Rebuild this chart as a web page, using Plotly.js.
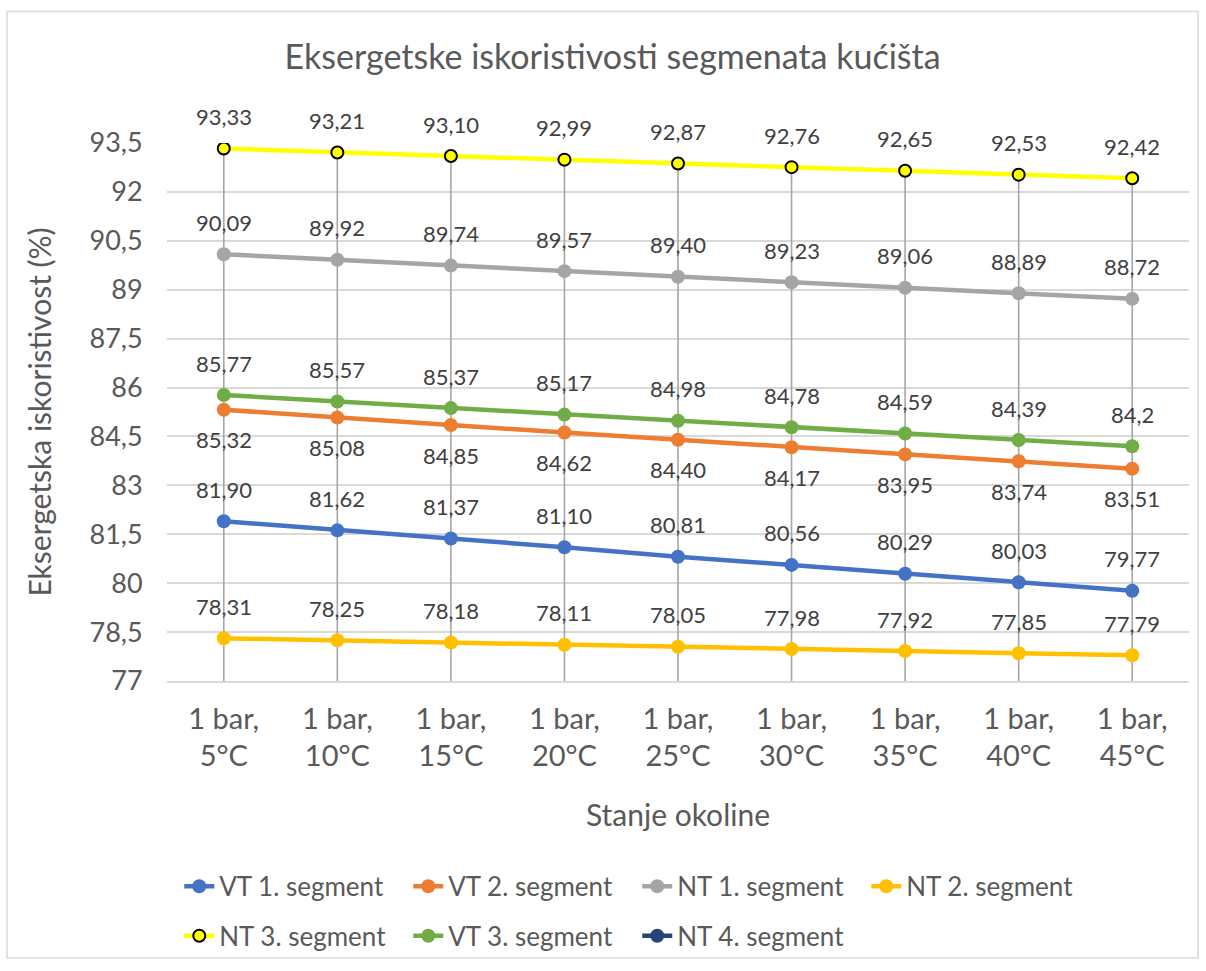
<!DOCTYPE html>
<html>
<head>
<meta charset="utf-8">
<script src="https://cdn.plot.ly/plotly-3.0.1.min.js"></script>
<style>
  html, body { margin: 0; padding: 0; background: #ffffff; }
  #chart { width: 1206px; height: 971px; }
</style>
</head>
<body>
<div id="chart"></div>
<script>
// ---- data ----
const categories = ["1 bar,<br>5°C", "1 bar,<br>10°C", "1 bar,<br>15°C", "1 bar,<br>20°C", "1 bar,<br>25°C",
                    "1 bar,<br>30°C", "1 bar,<br>35°C", "1 bar,<br>40°C", "1 bar,<br>45°C"];
const vt1 = [81.90, 81.62, 81.37, 81.10, 80.81, 80.56, 80.29, 80.03, 79.77];
const vt2 = [85.32, 85.08, 84.85, 84.62, 84.40, 84.17, 83.95, 83.74, 83.51];
const nt1 = [90.09, 89.92, 89.74, 89.57, 89.40, 89.23, 89.06, 88.89, 88.72];
const nt2 = [78.31, 78.25, 78.18, 78.11, 78.05, 77.98, 77.92, 77.85, 77.79];
const nt3 = [93.33, 93.21, 93.10, 92.99, 92.87, 92.76, 92.65, 92.53, 92.42];
const vt3 = [85.77, 85.57, 85.37, 85.17, 84.98, 84.78, 84.59, 84.39, 84.2];
const nt4 = [];
const vt3Labels = ["85,77", "85,57", "85,37", "85,17", "84,98", "84,78", "84,59", "84,39", "84,2"];
const yTickVals = [77, 78.5, 80, 81.5, 83, 84.5, 86, 87.5, 89, 90.5, 92, 93.5];
const yTickText = ["77", "78,5", "80", "81,5", "83", "84,5", "86", "87,5", "89", "90,5", "92", "93,5"];
const Y_MIN = 77, Y_MAX = 93.5;

const FONT = "Lato, 'Open Sans', sans-serif";
const fmt = v => v.toFixed(2).replace('.', ',');

const series = [
  {name: "VT 1. segment", y: vt1, color: "#4472C4", legend: "legend", pos: "above"},
  {name: "VT 2. segment", y: vt2, color: "#ED7D31", legend: "legend", pos: "below"},
  {name: "NT 1. segment", y: nt1, color: "#A5A5A5", legend: "legend", pos: "above"},
  {name: "NT 2. segment", y: nt2, color: "#FFC000", legend: "legend", pos: "above"},
  {name: "NT 3. segment", y: nt3, color: "#FFFF00", legend: "legend2", pos: "above", outline: true},
  {name: "VT 3. segment", y: vt3, color: "#70AD47", legend: "legend2", pos: "above", labels: vt3Labels},
  {name: "NT 4. segment", y: nt4, color: "#264478", legend: "legend2", pos: "none"}
];

// drop lines (from top series down to axis minimum), drawn first so they sit behind
const traces = [{
  type: "scatter", mode: "markers", x: categories, y: nt3,
  marker: {size: 1, opacity: 0}, showlegend: false, hoverinfo: "skip",
  error_y: {type: "data", symmetric: false, array: nt3.map(() => 0),
            arrayminus: nt3.map(v => v - Y_MIN), width: 0, thickness: 1.6, color: "#A6A6A6"}
}];

const annotations = [];
series.forEach(s => {
  traces.push({
    type: "scatter", mode: "lines+markers", name: s.name,
    x: s.y.length ? categories : [null], y: s.y.length ? s.y : [null],
    legend: s.legend,
    line: {color: s.color, width: 4.5},
    marker: s.outline ? {color: s.color, size: 12, line: {color: "#000000", width: 2}}
                      : {color: s.color, size: 14},
    hoverinfo: "x+y"
  });
  if (s.pos !== "none") {
    s.y.forEach((v, i) => {
      annotations.push({
        x: categories[i], y: v, xref: "x", yref: "y",
        text: s.labels ? s.labels[i] : fmt(v),
        showarrow: false, yshift: s.pos === "above" ? 32 : -30,
        font: {family: FONT, size: 22, color: "#404040"}
      });
    });
  }
});

const legendBase = {
  orientation: "h", x: 0.012, xanchor: "left", yanchor: "top",
  font: {family: FONT, size: 26, color: "#595959"},
  entrywidth: 184, entrywidthmode: "pixels", bgcolor: "rgba(0,0,0,0)"
};

const layout = {
  width: 1206, height: 971,
  margin: {l: 167, r: 17, t: 143, b: 284},
  paper_bgcolor: "#ffffff", plot_bgcolor: "#ffffff",
  font: {family: FONT, color: "#595959"},
  title: {text: "Eksergetske iskoristivosti segmenata kućišta",
          font: {family: FONT, size: 34, color: "#595959"},
          x: 0.508, xanchor: "center", xref: "container", y: 0.941, yanchor: "middle"},
  xaxis: {
    type: "category", range: [-0.5, 8.5],
    showgrid: false, zeroline: false,
    showline: true, linecolor: "#D9D9D9", linewidth: 1.5,
    ticks: "outside", ticklen: 11, tickcolor: "rgba(0,0,0,0)",
    tickfont: {family: FONT, size: 29, color: "#595959"},
    title: {text: "Stanje okoline", standoff: 34, font: {family: FONT, size: 30, color: "#595959"}}
  },
  yaxis: {
    range: [Y_MIN, Y_MAX], tickvals: yTickVals, ticktext: yTickText,
    showgrid: true, gridcolor: "#D9D9D9", gridwidth: 1.5, zeroline: false, showline: false,
    ticks: "outside", ticklen: 18, tickcolor: "rgba(0,0,0,0)",
    tickfont: {family: FONT, size: 27, color: "#595959"},
    title: {text: "Eksergetska iskoristivost (%)", standoff: 28, font: {family: FONT, size: 30, color: "#595959"}}
  },
  legend: Object.assign({}, legendBase, {y: -0.338}),
  legend2: Object.assign({}, legendBase, {y: -0.43}),
  annotations: annotations,
  shapes: [{
    type: "rect", xref: "paper", yref: "paper",
    x0: (7 - 167) / 1022, x1: (1198 - 167) / 1022,
    y0: (687 - 967) / 544, y1: (687 - 10) / 544,
    line: {color: "#D9D9D9", width: 1.5}, fillcolor: "rgba(0,0,0,0)", layer: "below"
  }]
};

Plotly.newPlot("chart", traces, layout, {displayModeBar: false, responsive: false});
</script>
</body>
</html>
